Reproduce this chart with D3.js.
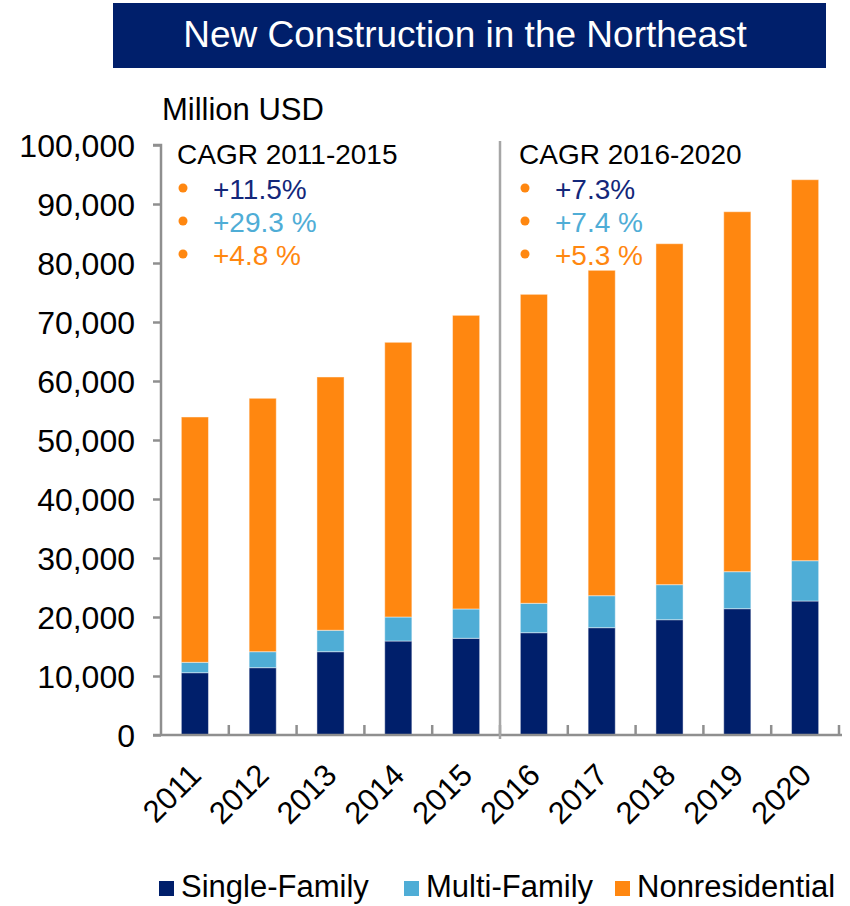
<!DOCTYPE html>
<html>
<head>
<meta charset="utf-8">
<script src="https://cdn.jsdelivr.net/npm/d3@7"></script>
<style>
  html,body{margin:0;padding:0;background:#fff;}
  svg{display:block;font-family:"Liberation Sans",Arial,sans-serif;}
</style>
</head>
<body>
<svg id="chart" width="850" height="906"></svg>
<script>
/* ---------- data (million USD) ---------- */
const years          = ["2011","2012","2013","2014","2015","2016","2017","2018","2019","2020"];
const singleFamily   = [10560,11410,14120,15930,16390,17340,18190,19540,21410,22710];
const multiFamily    = [ 1760, 2710, 3630, 4070, 4970, 4980, 5420, 5940, 6270, 6830];
const nonResidential = [41580,42950,42930,46560,49770,52370,55150,57790,61010,64580];
const seriesNames    = ["Single-Family","Multi-Family","Nonresidential"];
const yTicks         = [0,10000,20000,30000,40000,50000,60000,70000,80000,90000,100000];
const cagrLeft  = {title:"CAGR 2011-2015", items:["+11.5%","+29.3 %","+4.8 %"]};
const cagrRight = {title:"CAGR 2016-2020", items:["+7.3%","+7.4 %","+5.3 %"]};

/* ---------- styles ---------- */
const COL = ["#001f6b","#4fadd6","#ff8710"];
const TXT = ["#13277a","#4fadd6","#ff8710"];
const AXIS = "#8f8f8f";

/* ---------- layout ---------- */
const X0=161, X1=839, Y0=735, Y1=145;
const svg=d3.select("#chart");

const x=d3.scaleBand().domain(years).range([X0,X1]).paddingInner(0.6).paddingOuter(0.3);
const y=d3.scaleLinear().domain([0,100000]).range([Y0,Y1]);
const step=x.step(), bw=x.bandwidth();

/* title banner */
svg.append("rect").attr("x",113).attr("y",3).attr("width",713).attr("height",65).attr("fill","#001f6b");
svg.append("text").attr("x",465).attr("y",47).attr("text-anchor","middle")
   .attr("fill","#fff").attr("font-size",37).text("New Construction in the Northeast");

/* unit label */
svg.append("text").attr("x",162).attr("y",120).attr("font-size",31).attr("fill","#000").text("Million USD");

/* stacked bars */
const table=years.map((yr,i)=>({year:yr,s:singleFamily[i],m:multiFamily[i],n:nonResidential[i]}));
const stack=d3.stack().keys(["s","m","n"])(table);
svg.append("g").selectAll("g").data(stack).join("g")
   .attr("fill",(d,i)=>COL[i])
   .selectAll("rect").data(d=>d).join("rect")
   .attr("x",d=>x(d.data.year)).attr("width",bw)
   .attr("y",d=>y(d[1])).attr("height",d=>y(d[0])-y(d[1]))
   .attr("stroke","#fff").attr("stroke-opacity",0.45).attr("stroke-width",1);

/* y axis */
const ya=svg.append("g").attr("transform",`translate(${X0},0)`)
  .call(d3.axisLeft(y).tickValues(yTicks).tickFormat(d3.format(",")).tickSize(8).tickPadding(18));
ya.attr("font-family",null);
ya.select(".domain").attr("stroke",AXIS).attr("stroke-width",2.5).attr("d",`M-8,${Y1}H0V${Y0}`);
ya.selectAll(".tick line").attr("stroke",AXIS).attr("stroke-width",2.5);
ya.selectAll(".tick text").attr("font-size",32).attr("fill","#000").attr("dy","0.36em");

/* x axis: line + separators between categories */
svg.append("line").attr("x1",X0-8).attr("x2",X1+3).attr("y1",Y0).attr("y2",Y0)
   .attr("stroke",AXIS).attr("stroke-width",2.5);
const bounds=years.map(d=>x(d)+bw/2+step/2);
svg.append("g").selectAll("line").data(bounds).join("line")
   .attr("x1",d=>d).attr("x2",d=>d).attr("y1",Y0).attr("y2",Y0-10)
   .attr("stroke",AXIS).attr("stroke-width",2.5);
svg.append("g").selectAll("text").data(years).join("text")
   .attr("transform",d=>`translate(${x(d)+bw/2+8},777) rotate(-45)`)
   .attr("text-anchor","end").attr("font-size",31).attr("fill","#000").text(d=>d);

/* period divider */
const divX=x("2016")-step*0.3;
svg.append("line").attr("x1",divX).attr("x2",divX).attr("y1",141).attr("y2",Y0+4)
   .attr("stroke","#a6a6a6").attr("stroke-width",2.5);

/* CAGR notes */
function cagr(block,tx,bx,vx){
  svg.append("text").attr("x",tx).attr("y",164).attr("font-size",28).attr("fill","#000").text(block.title);
  block.items.forEach((t,i)=>{
    const by=199+i*33;
    svg.append("circle").attr("cx",bx).attr("cy",by-11).attr("r",4.5).attr("fill","#ff8710");
    svg.append("text").attr("x",vx).attr("y",by).attr("font-size",28).attr("fill",TXT[i]).text(t);
  });
}
cagr(cagrLeft,177,183,213);
cagr(cagrRight,519,525,555);

/* legend */
const legX=[159,404,615];
const lg=svg.append("g").selectAll("g").data(seriesNames).join("g")
   .attr("transform",(d,i)=>`translate(${legX[i]},0)`);
lg.append("rect").attr("x",0).attr("y",881).attr("width",15).attr("height",15).attr("fill",(d,i)=>COL[i]);
lg.append("text").attr("x",22).attr("y",897).attr("font-size",31).attr("fill","#000").text(d=>d);
</script>
</body>
</html>
